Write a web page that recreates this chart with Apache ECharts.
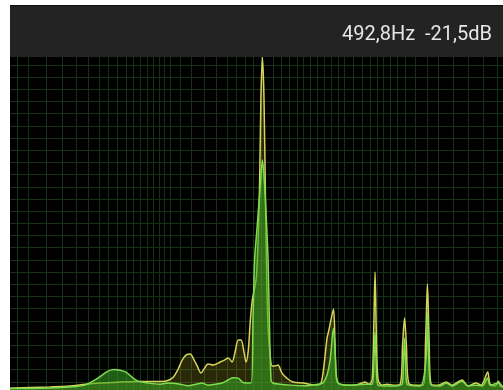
<!DOCTYPE html>
<html>
<head>
<meta charset="utf-8">
<script src="https://cdn.jsdelivr.net/npm/echarts@6/dist/echarts.min.js"></script>
<style>
  html, body { margin: 0; padding: 0; background: #fff; }
  #chart { width: 503px; height: 390px; }
</style>
</head>
<body>
<div id="chart"></div>
<script>
// Readout shown in the header bar
const readout = '492,8Hz  -21,5dB';

// Peak-hold trace (yellow): frequency in Hz, level in dB
const peakFreq = [42, 51.1, 62.1, 75.4, 85.6, 101, 122.8, 149.3, 190.6, 206.3, 216.6, 225.2, 234.2, 243.5, 253.2, 260.7, 270.8, 278.8, 289.9, 305, 326.5, 339.5, 353, 366.4, 377.2, 389.3, 400, 411.9, 420, 429.3, 437.8, 446.4, 454.9, 465.4, 478, 485.3, 492.8, 500.5, 507.6, 514.3, 520.8, 530.8, 541.4, 557.4, 573.7, 595.4, 625.2, 663, 731, 838.2, 872.9, 898.6, 925.6, 942.5, 961.2, 985.6, 999.2, 1009.3, 1030.6, 1103.8, 1216.7, 1302, 1339.6, 1394, 1436, 1458.6, 1478.4, 1496, 1522.6, 1583.3, 1661, 1763, 1887.6, 1933.7, 1971.2, 2006.7, 2050.8, 2184.8, 2361.8, 2420.4, 2464, 2504.6, 2553.9, 2734.5, 2956.8, 3130, 3449.6, 3662, 3942.4, 4157, 4435.2, 4540, 4767, 4928, 5007, 5150];
const peakDb = [-130.1, -129.9, -129.7, -129.4, -128.9, -128.4, -128.1, -127.9, -127.8, -126.5, -123.8, -120.9, -119.2, -118.9, -120.9, -122.8, -125.1, -123.8, -122.2, -122.5, -121.5, -120.9, -120.2, -121.5, -118.3, -114.3, -114.3, -118.3, -121.5, -117.6, -108.0, -101.2, -98.0, -93.0, -68.3, -35.5, -21.5, -35.5, -68.3, -95.0, -110.0, -119.0, -122.8, -122.8, -122.5, -125.1, -126.8, -128.1, -128.4, -129.1, -128.4, -122.5, -113.7, -111.0, -107.7, -104.1, -114.3, -125.8, -128.4, -129.1, -129.1, -128.4, -128.1, -128.8, -127.4, -111.4, -92.0, -111.4, -127.4, -129.1, -128.8, -129.1, -128.8, -116.0, -107.1, -116.0, -128.4, -129.1, -129.1, -114.3, -95.9, -114.3, -128.8, -129.1, -128.1, -129.1, -127.4, -129.4, -128.4, -129.1, -124.8, -128.8, -129.4, -127.8, -129.4, -129.7];

// Live trace (green): frequency in Hz, level in dB
const liveFreq = [42, 56.3, 75.4, 87.3, 96.2, 103.1, 109.3, 115.9, 122.8, 130.2, 138.1, 146.4, 161.4, 181.5, 196.3, 220.6, 238.5, 257.9, 273.8, 289.9, 310.3, 332.3, 353, 370.6, 389.3, 404.9, 420, 441, 449.5, 456.5, 468.7, 482.7, 492.8, 503.2, 513.3, 520.8, 528.3, 536.1, 545, 585, 645, 746.8, 848, 890.5, 925.6, 953.3, 985.6, 1006, 1030.6, 1157, 1339.6, 1436, 1461.3, 1478.4, 1492.8, 1522.6, 1712, 1924, 1950.6, 1971.2, 1989, 2020.6, 2293, 2427.6, 2464, 2500, 2553.9, 2787.5, 2956.8, 3130, 3449.6, 3662, 3942.4, 4200, 4435.2, 4540, 4928, 5150];
const liveDb = [-130.2, -130.1, -129.7, -129.1, -127.4, -125.8, -124.5, -124.0, -124.2, -124.8, -126.5, -127.8, -128.4, -128.8, -128.4, -128.8, -129.3, -128.8, -128.4, -129.1, -128.8, -128.4, -127.4, -126.7, -126.8, -128.1, -128.4, -128.4, -107.7, -88.0, -76.5, -63.4, -55.2, -63.4, -76.5, -88.0, -111.0, -127.4, -128.4, -128.8, -129.1, -129.3, -128.8, -128.4, -125.8, -120.9, -110.4, -120.9, -128.4, -129.1, -128.8, -128.8, -120.9, -111.7, -120.9, -129.1, -129.4, -128.8, -120.9, -113.7, -120.9, -128.8, -129.4, -120.9, -105.4, -120.9, -129.1, -129.4, -128.4, -129.4, -127.8, -129.4, -129.1, -129.4, -126.8, -129.1, -128.4, -129.7];

// Background grid: frequency lines (Hz) and level lines (dB)
const gridFreqs = [45, 50, 60, 70, 80, 90, 100, 110, 120, 130, 140, 150, 160, 170, 180, 190, 200, 220, 246, 279, 313, 350, 382, 417, 450, 487, 547, 590, 638, 690, 731, 784, 838, 899, 961, 1031, 1093, 1193, 1302, 1407, 1507, 1598, 1712, 1833, 1982, 2185, 2455, 2735, 3160, 3662, 4241, 4858];
const gridLevels = [-24, -28, -32, -36, -40, -44, -48, -52, -56, -60, -64, -68, -72, -76, -80, -84, -88, -92, -96, -100, -104, -108, -112, -116, -120, -124, -128];

const pairs = (fs, ds) => fs.map((f, i) => [f, ds[i]]);

const chart = echarts.init(document.getElementById('chart'), null, { renderer: 'canvas' });

chart.setOption({
  animation: false,
  backgroundColor: '#ffffff',
  grid: { left: 10, right: 0, top: 57, bottom: 0, show: true, backgroundColor: '#000000', borderWidth: 0 },
  xAxis: {
    type: 'log', logBase: 10, min: 42, max: 5150,
    axisLine: { show: false }, axisTick: { show: false }, axisLabel: { show: false }, splitLine: { show: false }
  },
  yAxis: {
    type: 'value', min: -130.7, max: -21.4,
    axisLine: { show: false }, axisTick: { show: false }, axisLabel: { show: false }, splitLine: { show: false }
  },
  series: [
    {
      name: 'grid', type: 'line', data: [], zlevel: 0, z: 1, silent: true,
      markLine: {
        zlevel: 0, z: 1, silent: true, symbol: ['none', 'none'], animation: false,
        label: { show: false },
        lineStyle: { color: '#163216', width: 1, type: 'solid', opacity: 1 },
        emphasis: { disabled: true },
        data: gridFreqs.map(f => ({ xAxis: f })).concat(gridLevels.map(v => ({ yAxis: v })))
      }
    },
    {
      name: 'peak', type: 'line', zlevel: 1, z: 2, silent: true,
      data: pairs(peakFreq, peakDb),
      smooth: 0.3, showSymbol: false, symbol: 'none',
      lineStyle: { color: '#d6d45a', width: 1.5 },
      areaStyle: { color: 'rgba(180,175,40,0.33)', origin: 'start' }
    },
    {
      name: 'live', type: 'line', zlevel: 1, z: 3, silent: true,
      data: pairs(liveFreq, liveDb),
      smooth: 0.3, showSymbol: false, symbol: 'none',
      lineStyle: { color: '#7fdc50', width: 1.5 },
      areaStyle: { color: 'rgba(55,165,35,0.8)', origin: 'start' }
    }
  ],
  graphic: [
    { type: 'rect', silent: true, zlevel: 2, shape: { x: 10, y: 5, width: 493, height: 52 }, style: { fill: '#232323' } },
    { type: 'rect', silent: true, zlevel: 2, shape: { x: 10, y: 5, width: 493, height: 1 }, style: { fill: '#0e0e0e' } },
    {
      type: 'text', silent: true, zlevel: 2, x: 492, y: 35,
      style: {
        text: readout, fill: '#e6e6e6', font: 'normal 20px Roboto',
        textAlign: 'right', textVerticalAlign: 'middle'
      }
    }
  ]
});
</script>
</body>
</html>
